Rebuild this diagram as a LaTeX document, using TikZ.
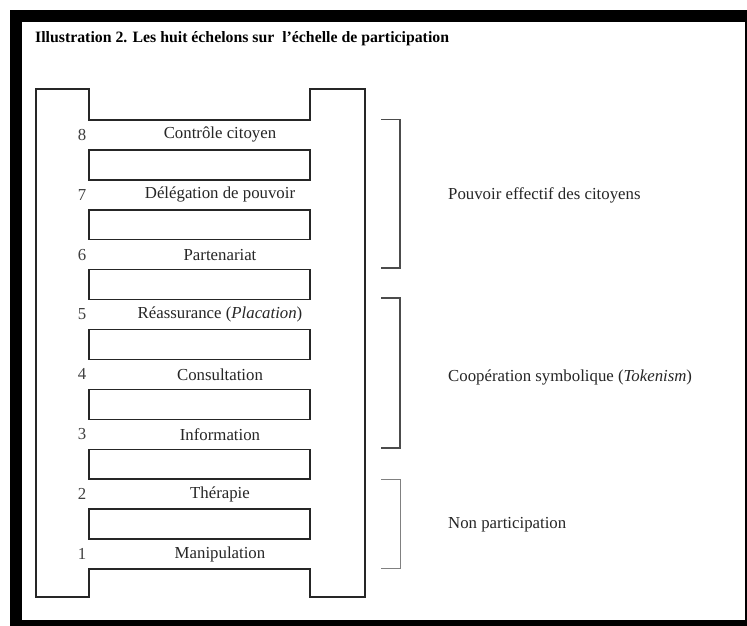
\documentclass[tikz,border=0pt]{standalone}
\usepackage{fontspec}
\setmainfont{Liberation Serif}
\begin{document}
\begin{tikzpicture}[x=1pt,y=-1pt,
  ladder/.style={draw=black!85, line width=1.4pt},
  rung/.style={draw=black!85, line width=1.4pt, minimum width=221pt, minimum height=29.9pt, inner sep=0pt},
  lab/.style={font=\fontsize{16.8}{19}\selectfont, text=black!85, inner sep=0pt},
  num/.style={font=\fontsize{16.8}{19}\selectfont, text=black!75, inner sep=0pt},
  brk/.style={draw=black!70, line width=1.3pt},
  brkl/.style={draw=black!50, line width=1pt},
  grp/.style={font=\fontsize{16.8}{19}\selectfont, text=black!85, anchor=west, inner sep=0pt}]
\useasboundingbox (0,0) rectangle (747,626);
\fill[black] (10,10) rectangle (747,626);
\fill[white] (22,22) rectangle (745,620);
\node[anchor=base west, inner sep=0pt, font=\bfseries\fontsize{15.8}{18}\selectfont] (title) at (35,43) {Illustration 2. Les huit échelons sur\ \ l'échelle de participation};
% ladder rails
\draw[ladder] (36,89) -- (89,89) -- (89,120) -- (310,120) -- (310,89) -- (365,89) -- (365,597) -- (310,597) -- (310,569) -- (89,569) -- (89,597) -- (36,597) -- cycle;
% rungs
\foreach \i in {1,...,7}{
  \node[rung] (r\i) at (199.5,{120+(2*\i-0.5)*29.93}) {};
}
% labels
\foreach \j/\n/\t in {0/8/{Contrôle citoyen},1/7/{Délégation de pouvoir},2/6/{Partenariat},3/5/{Réassurance (\textit{Placation})},4/4/{Consultation},5/3/{Information},6/2/{Thérapie},7/1/{Manipulation}}{
  \node[lab] (l\n) at (220,{120+(2*\j+0.5)*29.93}) {\t};
  \node[num] (n\n) at (82,{120+(2*\j+0.5)*29.93}) {\n};
}
% brackets
\coordinate (a1) at (381,119.5); \coordinate (a2) at (400,119.5);
\coordinate (a3) at (400,268); \coordinate (a4) at (381,268);
\coordinate (b1) at (381,298); \coordinate (b2) at (400,298);
\coordinate (b3) at (400,448); \coordinate (b4) at (381,448);
\coordinate (c1) at (381,479); \coordinate (c2) at (400,479);
\coordinate (c3) at (400,568); \coordinate (c4) at (381,568);
\draw[brk] (a1) -- (a2) -- (a3) -- (a4);
\draw[brk] (b1) -- (b2) -- (b3) -- (b4);
\draw[brkl] (c1) -- (c2) -- (c3) -- (c4);
\node[grp] (g1) at (448,195) {Pouvoir effectif des citoyens};
\node[grp] (g2) at (448,377) {Coopération symbolique (\textit{Tokenism})};
\node[grp] (g3) at (448,525) {Non participation};
\end{tikzpicture}
\end{document}
